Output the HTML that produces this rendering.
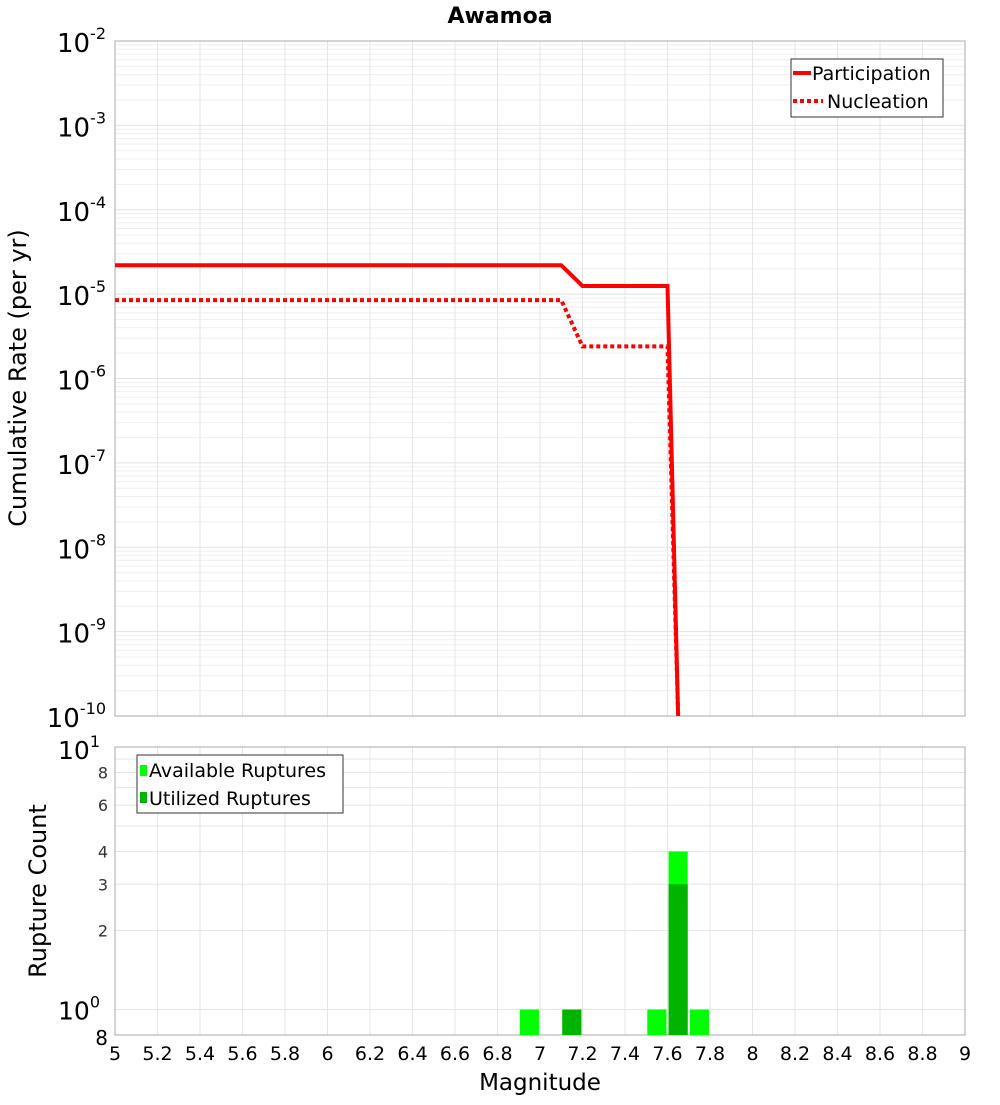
<!DOCTYPE html>
<html><head><meta charset="utf-8"><style>
body{margin:0;background:#fff;font-family:"Liberation Sans","DejaVu Sans",sans-serif}
svg text{font-family:"DejaVu Sans","Liberation Sans",sans-serif}
</style></head><body>
<svg id="c" width="1000" height="1100" xmlns="http://www.w3.org/2000/svg">
<text x="500" y="23" text-anchor="middle" font-size="22" font-weight="bold">Awamoa</text>
<text transform="translate(26,378) rotate(-90)" text-anchor="middle" font-size="24">Cumulative Rate (per yr)</text>
<text transform="translate(46,891) rotate(-90)" text-anchor="middle" font-size="24">Rupture Count</text>
<text x="540" y="1090" text-anchor="middle" font-size="23">Magnitude</text>
<g id="g"></g>
</svg>
<script>
const partMag=[5,7.1,7.2,7.6,7.65];
const partRate=[2.2e-5,2.2e-5,1.25e-5,1.25e-5,1e-10];
const nuclMag=[5,7.1,7.2,7.6,7.65];
const nuclRate=[8.5e-6,8.5e-6,2.4e-6,2.4e-6,1e-10];
const binCenters=[6.95,7.15,7.55,7.65,7.75];
const availCounts=[1,1,1,4,1];
const utilCounts=[0,1,0,3,0];
const xTicks=[5,5.2,5.4,5.6,5.8,6,6.2,6.4,6.6,6.8,7,7.2,7.4,7.6,7.8,8,8.2,8.4,8.6,8.8,9];
const topExps=[-2,-3,-4,-5,-6,-7,-8,-9,-10];
const botTicks=[2,3,4,6,8];

const NS="http://www.w3.org/2000/svg",g=document.getElementById('g');
function el(t,a,txt){const e=document.createElementNS(NS,t);for(const k in a)e.setAttribute(k,a[k]);if(txt!=null)e.textContent=txt;g.appendChild(e);return e;}
const L=115,R=965,T1=41,B1=716,T2=747,B2=1035;
const x=m=>L+(m-5)/4*(R-L);
const y1=v=>T1+(-2-Math.log10(v))/8*(B1-T1);
const lmin=Math.log10(0.8),y2=v=>B2-(Math.log10(v)-lmin)/(1-lmin)*(B2-T2);

for(let e=-10;e<-2;e++)for(let k=1;k<10;k++){const yy=y1(k*Math.pow(10,e));
 const ln=el('line',{x1:L,x2:R,y1:yy,y2:yy,stroke:k==1?'#e2e2e2':'#efefef','stroke-width':1});
 }
for(const t of xTicks){for(const [a,b] of [[T1,B1],[T2,B2]]){const ln=el('line',{x1:x(t),x2:x(t),y1:a,y2:b,stroke:'#e6e6e6'});
 }}
for(let k=1;k<=10;k++){const yy=y2(k);const ln=el('line',{x1:L,x2:R,y1:yy,y2:yy,stroke:'#e6e6e6'});
 }
let f=el('rect',{x:L,y:T1,width:R-L,height:B1-T1,fill:'none',stroke:'#aaa'});
f=el('rect',{x:L,y:T2,width:R-L,height:B2-T2,fill:'none',stroke:'#aaa'});
for(const e of topExps){const t=el('text',{x:106,y:y1(Math.pow(10,e))+11,'text-anchor':'end','font-size':26});
 
 t.innerHTML='10<tspan dy="-13" font-size="16">'+e+'</tspan>';}
for(const v of botTicks){const t=el('text',{x:108,y:y2(v)+6,'text-anchor':'end','font-size':16,fill:'#333'},String(v));
 }
[[10,'1',y2(10)+12],[1,'0',y2(1)+10]].forEach(([v,s,yy])=>{const t=el('text',{x:100,y:yy,'text-anchor':'end','font-size':25});
 t.innerHTML='10<tspan dy="-12" font-size="16">'+s+'</tspan>';});
let t8=el('text',{x:108,y:B2+10,'text-anchor':'end','font-size':20},'8');
for(const t of xTicks){const tx=el('text',{x:x(t),y:1060,'text-anchor':'middle','font-size':19},String(t));
 }
const clip=el('clipPath',{id:'cp'});const cr=document.createElementNS(NS,'rect');cr.setAttribute('x',L);cr.setAttribute('y',T1);cr.setAttribute('width',R-L);cr.setAttribute('height',B1-T1);clip.appendChild(cr);
let p=el('polyline',{points:partMag.map((m,i)=>x(m)+','+y1(partRate[i])).join(' '),fill:'none',stroke:'#f00','stroke-width':4,'clip-path':'url(#cp)'});

p=el('polyline',{points:nuclMag.map((m,i)=>x(m)+','+y1(nuclRate[i])).join(' '),fill:'none',stroke:'#f00','stroke-width':4,'stroke-dasharray':'4 3','clip-path':'url(#cp)'});

const bw=0.09;
binCenters.forEach((c,i)=>{if(availCounts[i]>0){const r=el('rect',{x:x(c-bw/2),y:y2(availCounts[i]),width:x(c+bw/2)-x(c-bw/2),height:B2-y2(availCounts[i]),fill:'#00ff00'});
 }});
binCenters.forEach((c,i)=>{if(utilCounts[i]>0){const r=el('rect',{x:x(c-bw/2),y:y2(utilCounts[i]),width:x(c+bw/2)-x(c-bw/2),height:B2-y2(utilCounts[i]),fill:'#00b400'});
 }});
let lg=el('rect',{x:791,y:59,width:152,height:58,fill:'#fff',stroke:'#333'});
el('line',{x1:793,x2:811,y1:73,y2:73,stroke:'#f00','stroke-width':4});
el('line',{x1:793,x2:823,y1:101,y2:101,stroke:'#f00','stroke-width':4,'stroke-dasharray':'4 3'});
let lt=el('text',{x:812,y:80,'font-size':19},'Participation');
lt=el('text',{x:827,y:108,'font-size':19},'Nucleation');
lg=el('rect',{x:137,y:755,width:206,height:58,fill:'#fff',stroke:'#333'});
el('rect',{x:140,y:765,width:7,height:11,fill:'#00ff00'});
el('rect',{x:140,y:792,width:7,height:11,fill:'#00b400'});
lt=el('text',{x:149,y:777,'font-size':19},'Available Ruptures');
lt=el('text',{x:149,y:805,'font-size':19},'Utilized Ruptures');
</script>
</body></html>
